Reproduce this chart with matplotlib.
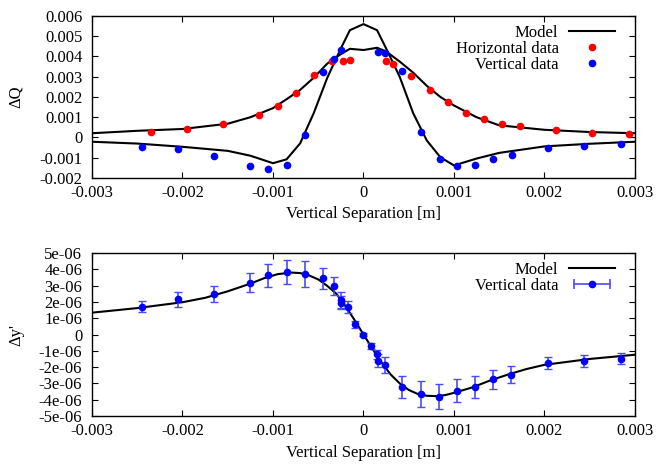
import matplotlib
matplotlib.use("Agg")
import matplotlib.pyplot as plt
import numpy as np
from matplotlib.lines import Line2D
from matplotlib.legend_handler import HandlerLine2D, HandlerTuple

plt.rcParams['font.family'] = ['Liberation Serif', 'DejaVu Serif']
plt.rcParams['axes.unicode_minus'] = False
plt.rcParams['font.size'] = 12

# top panel data (x in 1e-3 m, dQ in 1e-3)
horiz_x = [-2.35, -1.95, -1.55, -1.15, -0.95, -0.75, -0.55, -0.35, -0.23, -0.15,
           0.25, 0.33, 0.53, 0.73, 0.93, 1.13, 1.33, 1.53, 1.73, 2.13, 2.53, 2.93]
horiz_y = [0.29, 0.42, 0.65, 1.09, 1.57, 2.21, 3.07, 3.78, 3.79, 3.84,
           3.78, 3.61, 3.04, 2.33, 1.74, 1.19, 0.90, 0.68, 0.58, 0.37, 0.24, 0.17]
vert_x = [-2.45, -2.05, -1.65, -1.25, -1.05, -0.85, -0.65, -0.45, -0.33, -0.25,
          0.16, 0.24, 0.43, 0.63, 0.84, 1.03, 1.23, 1.43, 1.64, 2.04, 2.44, 2.84]
vert_y = [-0.45, -0.57, -0.93, -1.41, -1.54, -1.34, 0.14, 3.22, 3.86, 4.30,
          4.22, 4.16, 3.27, 0.27, -1.08, -1.42, -1.36, -1.08, -0.85, -0.53, -0.40, -0.32]

model_x = [-3.0, -2.5, -2.0, -1.5, -1.25, -1.0, -0.85, -0.7, -0.55, -0.4, -0.25, -0.15, 0.0,
           0.15, 0.25, 0.4, 0.55, 0.7, 0.85, 1.0, 1.25, 1.5, 2.0, 2.5, 3.0]
model_h = [0.21, 0.33, 0.42, 0.68, 1.0, 1.45, 1.89, 2.35, 2.95, 3.65, 4.12, 4.38, 4.32,
           4.43, 4.25, 3.75, 3.20, 2.55, 2.0, 1.58, 1.0, 0.6, 0.38, 0.27, 0.21]
model_v = [-0.21, -0.30, -0.46, -0.66, -0.90, -1.27, -1.08, -0.29, 1.20, 2.95, 4.40, 5.30, 5.60,
           5.30, 4.40, 3.0, 1.19, -0.15, -0.98, -1.38, -1.04, -0.76, -0.44, -0.31, -0.21]

# bottom panel data (dy' in 1e-6)
dy_x = [-2.45, -2.05, -1.65, -1.25, -1.05, -0.85, -0.65, -0.45, -0.33, -0.25, -0.245, -0.17,
        -0.09, 0.0, 0.08, 0.15, 0.155, 0.24, 0.43, 0.63, 0.83, 1.03, 1.23, 1.43, 1.63,
        2.04, 2.44, 2.84]
dy_y = [1.71, 2.16, 2.46, 3.18, 3.63, 3.81, 3.72, 3.44, 2.98, 2.12, 1.95, 1.71,
        0.62, -0.01, -0.69, -1.22, -1.61, -1.89, -3.22, -3.65, -3.83, -3.45, -3.20, -2.75, -2.46,
        -1.73, -1.63, -1.48]
dy_err = [0.33, 0.46, 0.49, 0.60, 0.72, 0.73, 0.79, 0.66, 0.56, 0.50, 0.40, 0.37,
          0.22, 0.10, 0.18, 0.26, 0.40, 0.48, 0.67, 0.80, 0.77, 0.72, 0.68, 0.59, 0.53,
          0.37, 0.36, 0.34]
dy_model_x = [-3.0, -2.5, -2.0, -1.75, -1.5, -1.25, -1.1, -0.95, -0.8, -0.7, -0.6, -0.5, -0.4,
              -0.3, -0.2, -0.1, 0.0, 0.1, 0.2, 0.3, 0.4, 0.5, 0.6, 0.7, 0.8, 0.9, 1.0, 1.2,
              1.4, 1.6, 1.8, 2.0, 2.5, 3.0]
dy_model_y = [1.34, 1.62, 1.98, 2.25, 2.65, 3.12, 3.45, 3.70, 3.80, 3.77, 3.62, 3.38, 2.98,
              2.50, 1.75, 0.90, 0.0, -0.88, -1.72, -2.45, -3.00, -3.40, -3.65, -3.76, -3.78,
              -3.72, -3.58, -3.25, -2.82, -2.45, -2.12, -1.86, -1.50, -1.24]

x_ticks = [-0.003, -0.002, -0.001, 0, 0.001, 0.002, 0.003]
x_labels = ['-0.003', '-0.002', '-0.001', '0', '0.001', '0.002', '0.003']
q_ticks = [-0.002, -0.001, 0, 0.001, 0.002, 0.003, 0.004, 0.005, 0.006]
q_labels = ['-0.002', '-0.001', '0', '0.001', '0.002', '0.003', '0.004', '0.005', '0.006']
dy_ticks = [-5e-6, -4e-6, -3e-6, -2e-6, -1e-6, 0, 1e-6, 2e-6, 3e-6, 4e-6, 5e-6]
dy_labels = ['-5e-06', '-4e-06', '-3e-06', '-2e-06', '-1e-06', '0',
             '1e-06', '2e-06', '3e-06', '4e-06', '5e-06']

mm = 1e-3
BLUE = '#0000ff'
RED = '#ff0000'
EBLUE = '#4a4aff'

fig = plt.figure(figsize=(6.57, 4.68), dpi=100)
ax1 = fig.add_axes([0.140, 0.6197, 0.8265, 0.3461])
ax2 = fig.add_axes([0.140, 0.1111, 0.8265, 0.3483])


def style(ax):
    ax.tick_params(direction='in', top=True, right=True, length=4, width=0.8)
    ax.tick_params(axis='y', pad=7)
    ax.tick_params(axis='x', pad=5)
    for s in ax.spines.values():
        s.set_linewidth(1.0)
    ax.set_xlim(-0.003, 0.003)
    ax.set_xticks(x_ticks)
    ax.set_xticklabels(x_labels)
    ax.set_xlabel('Vertical Separation [m]', labelpad=4)


leg_kw = dict(loc='upper right', frameon=False, markerfirst=False, alignment='right',
              handlelength=2.8, numpoints=1, borderaxespad=0.3, labelspacing=0.0,
              handletextpad=0.6, bbox_to_anchor=(0.985, 1.015))

# top panel
ax1.plot(np.array(model_x) * mm, np.array(model_h) * mm, color='black', lw=1.5, label='Model')
ax1.plot(np.array(model_x) * mm, np.array(model_v) * mm, color='black', lw=1.5)
ax1.plot(np.array(horiz_x) * mm, np.array(horiz_y) * mm, 'o', color=RED, ms=4.5,
         label='Horizontal data')
ax1.plot(np.array(vert_x) * mm, np.array(vert_y) * mm, 'o', color=BLUE, ms=4.5,
         label='Vertical data')
style(ax1)
ax1.set_ylim(-0.002, 0.006)
ax1.set_yticks(q_ticks)
ax1.set_yticklabels(q_labels)
ax1.set_ylabel('ΔQ')
ax1.yaxis.set_label_coords(-0.125, 0.5)
ax1.legend(**leg_kw)

# bottom panel
ax2.plot(np.array(dy_model_x) * mm, np.array(dy_model_y) * 1e-6, color='black', lw=1.5)
ax2.errorbar(np.array(dy_x) * mm, np.array(dy_y) * 1e-6, yerr=np.array(dy_err) * 1e-6,
             fmt='o', color=BLUE, ms=4.5, ecolor=EBLUE, elinewidth=1.2, capsize=3)
style(ax2)
ax2.set_ylim(-5e-6, 5e-6)
ax2.set_yticks(dy_ticks)
ax2.set_yticklabels(dy_labels)
ax2.set_ylabel("Δy'")
ax2.yaxis.set_label_coords(-0.125, 0.5)

model_h2 = Line2D([], [], color='black', lw=1.5)
cap_line = Line2D([], [], color=EBLUE, lw=1.2, marker='|', ms=7, mew=1.2)
dot = Line2D([], [], color=BLUE, marker='o', ms=4.5, ls='none')
ax2.legend([model_h2, (cap_line, dot)], ['Model', 'Vertical data'],
           handler_map={cap_line: HandlerLine2D(numpoints=2), tuple: HandlerTuple(ndivide=1)},
           **leg_kw)

fig.savefig('out.png', dpi=100)
